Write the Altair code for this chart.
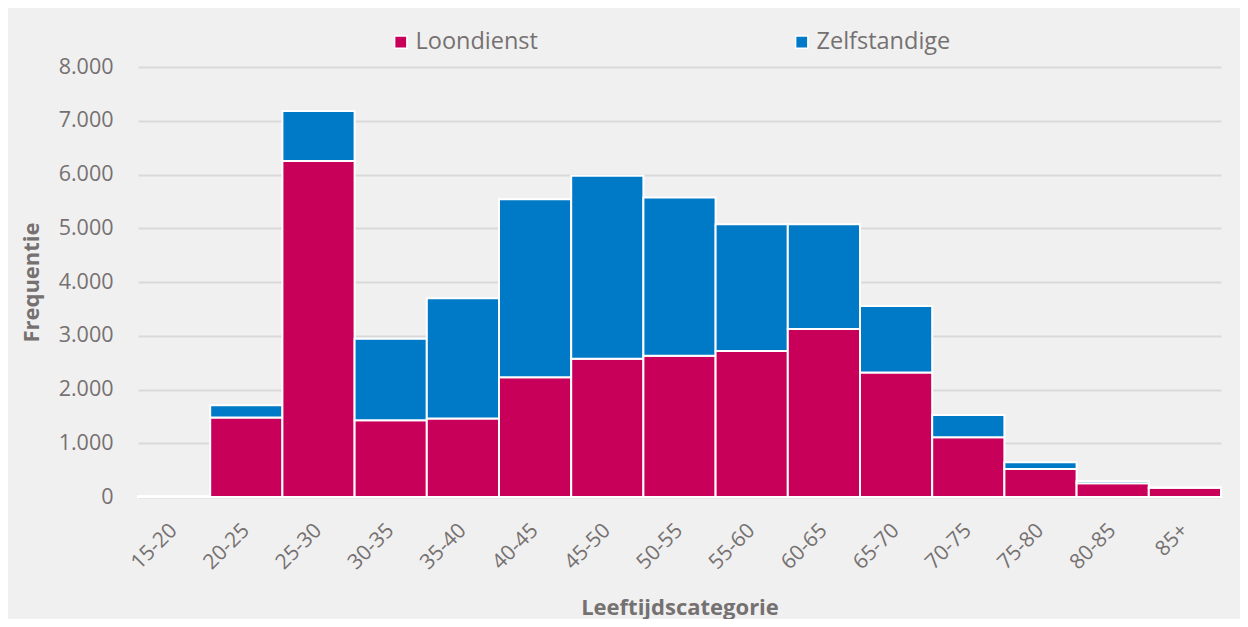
import altair as alt
import pandas as pd

categories = ["15-20", "20-25", "25-30", "30-35", "35-40", "40-45", "45-50", "50-55",
              "55-60", "60-65", "65-70", "70-75", "75-80", "80-85", "85+"]
loondienst = [10, 1480, 6250, 1430, 1460, 2230, 2570, 2630, 2715, 3125, 2315, 1110, 520, 255, 170]
zelfstandige = [5, 225, 930, 1515, 2240, 3310, 3405, 2940, 2360, 1950, 1240, 415, 125, 45, 5]
series = ["Loondienst", "Zelfstandige"]
colors = ["#C8005A", "#0079C6"]
y_ticks = [0, 1000, 2000, 3000, 4000, 5000, 6000, 7000, 8000]

rows = []
for i, c in enumerate(categories):
    rows.append({"cat": c, "serie": series[0], "waarde": loondienst[i], "ord": 0})
    rows.append({"cat": c, "serie": series[1], "waarde": zelfstandige[i], "ord": 1})
df = pd.DataFrame(rows)

FONT = "Open Sans"
TXT = "#767171"

chart = alt.Chart(df).mark_bar(stroke="white", strokeWidth=2).encode(
    x=alt.X("cat:N", sort=categories,
            scale=alt.Scale(paddingInner=0, paddingOuter=0),
            axis=alt.Axis(title="Leeftijdscategorie", labelAngle=-45, labelAlign="right",
                          labelBaseline="middle", labelPadding=30, domain=False, ticks=False,
                          labelFontSize=21, labelColor=TXT, labelFont=FONT,
                          titleFont=FONT, titleFontSize=22, titleFontWeight="bold",
                          titleColor=TXT, titleY=117, titleBaseline="alphabetic")),
    y=alt.Y("waarde:Q", stack="zero",
            scale=alt.Scale(domain=[0, 8000], nice=False),
            axis=alt.Axis(title="Frequentie", values=y_ticks, domain=False, ticks=False,
                          labelExpr="replace(format(datum.value, ','), ',', '.')",
                          labelPadding=25, labelFontSize=21.5, labelColor=TXT, labelFont=FONT,
                          gridColor="#D9D9D9", gridWidth=2,
                          titleFont=FONT, titleFontSize=22, titleFontWeight="bold",
                          titleColor=TXT, titleX=-100, titleBaseline="alphabetic")),
    color=alt.Color("serie:N", sort=series,
                    scale=alt.Scale(domain=series, range=colors),
                    legend=alt.Legend(title=None, orient="none", direction="horizontal",
                                      legendX=251, legendY=-37, symbolType="square",
                                      symbolSize=150, symbolStrokeColor="white",
                                      symbolStrokeWidth=1.5, labelFontSize=23.5,
                                      labelFont=FONT, labelColor=TXT, labelOffset=3,
                                      columnPadding=252)),
    order=alt.Order("ord:Q"),
).properties(
    width=1083, height=430,
    autosize=alt.AutoSizeParams(type="none"),
    padding={"left": 130, "top": 59, "right": 19, "bottom": 122},
    background="#F0F0F0",
).configure_view(stroke=None)

chart.save("out.html", embed_options={"renderer": "svg", "actions": False})
